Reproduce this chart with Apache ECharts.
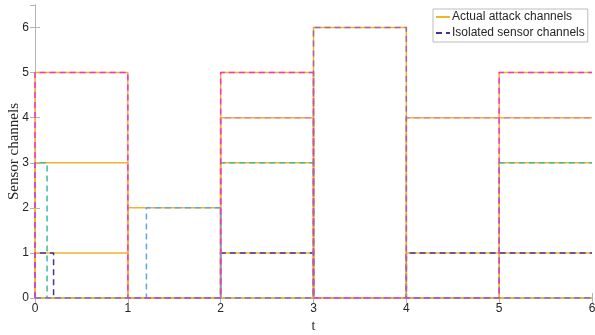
<!DOCTYPE html>
<html>
<head>
<meta charset="utf-8">
<script src="https://cdn.jsdelivr.net/npm/echarts@6/dist/echarts.min.js"></script>
<style>
  html, body { margin: 0; padding: 0; background: #fff; }
  #chart { width: 595px; height: 335px; }
</style>
</head>
<body>
<div id="chart"></div>
<script>
// Time axis: the attack pattern changes at each integer instant
const switchTimes = [0, 1, 2, 3, 4, 5, 6];
// Channels under attack during each interval [switchTimes[i], switchTimes[i+1])
const attackedChannels = [[1, 3, 5], [2], [1, 3, 4, 5], [6], [1, 4], [1, 3, 4, 5]];

// Intervals [start, end] during which each channel is flagged by the isolation scheme
const isolatedCh1 = [[0, 0.2], [2, 3], [4, 6]];
const isolatedCh2 = [[1.2, 2]];
const isolatedCh3 = [[0, 0.13], [2, 3], [5, 6]];
const isolatedCh4 = [[2, 3], [4, 6]];
const isolatedCh5 = [[0, 1], [2, 3], [5, 6]];
const isolatedCh6 = [[3, 4]];
const isolatedByChannel = [isolatedCh1, isolatedCh2, isolatedCh3, isolatedCh4, isolatedCh5, isolatedCh6];

const channels = [1, 2, 3, 4, 5, 6];
const yTicks = [0, 1, 2, 3, 4, 5, 6];
const xTicks = [0, 1, 2, 3, 4, 5, 6];

const actualColor = '#f0b32c';
const isolatedColors = ['#46329c', '#5ea7dc', '#3dbd9b', '#d88a99', '#f932c8', '#9a68ab'];
const tEnd = switchTimes[switchTimes.length - 1];

// Staircase of one channel's attack indicator (level = channel index when attacked)
function actualStairs(ch) {
  const pts = [];
  let prev = 0;
  for (let i = 0; i < attackedChannels.length; i++) {
    const v = attackedChannels[i].includes(ch) ? ch : 0;
    pts.push([switchTimes[i], prev], [switchTimes[i], v]);
    prev = v;
  }
  pts.push([tEnd, prev]);
  return pts;
}

// Staircase of one channel's isolation flag
function isolatedStairs(ch, intervals) {
  const pts = [[0, 0]];
  let y = 0;
  intervals.forEach(([a, b]) => {
    pts.push([a, y], [a, ch]);
    y = ch;
    if (b < tEnd) {
      pts.push([b, ch], [b, 0]);
      y = 0;
    }
  });
  pts.push([tEnd, y]);
  return pts;
}

const series = [];
channels.forEach(ch => {
  series.push({
    name: 'Actual attack channels',
    type: 'line',
    data: actualStairs(ch),
    symbol: 'none',
    animation: false,
    lineStyle: { color: actualColor, width: 1.5 },
    itemStyle: { color: actualColor },
    z: 2
  });
});
channels.forEach((ch, i) => {
  series.push({
    name: 'Isolated sensor channels',
    type: 'line',
    data: isolatedStairs(ch, isolatedByChannel[i]),
    symbol: 'none',
    animation: false,
    lineStyle: { color: isolatedColors[i], width: 1.5, type: [6, 4] },
    itemStyle: { color: isolatedColors[i] },
    z: 3 + i
  });
});

const axisGrey = '#b4b4b4';
const labelColor = '#262626';
const sans = 'Liberation Sans, Arial, sans-serif';
const serif = 'Liberation Serif, DejaVu Serif, serif';

const chart = echarts.init(document.getElementById('chart'), null, { renderer: 'canvas' });
chart.setOption({
  backgroundColor: '#ffffff',
  animation: false,
  grid: { left: 35, right: 3, top: 5, bottom: 37, containLabel: false, outerBoundsMode: 'none' },
  legend: {
    data: ['Actual attack channels', 'Isolated sensor channels'],
    orient: 'vertical',
    left: 433,
    top: 9,
    padding: [2, 3, 3, 2],
    itemGap: 4,
    itemWidth: 14,
    itemHeight: 12,
    backgroundColor: '#ffffff',
    borderColor: '#bdbdbd',
    borderWidth: 1,
    borderRadius: 0,
    itemStyle: { opacity: 0 },
    textStyle: { fontFamily: sans, fontSize: 12, color: labelColor, padding: [0, 0, 0, -3] }
  },
  xAxis: [{
    type: 'value',
    min: 0, max: 6, interval: 1,
    name: 't',
    nameLocation: 'middle',
    nameGap: 21,
    nameMoveOverlap: false,
    nameTextStyle: { fontFamily: serif, fontSize: 14, color: labelColor },
    axisLine: { show: true, lineStyle: { color: axisGrey, width: 1 } },
    axisTick: { show: true, inside: true, length: 5, lineStyle: { color: axisGrey } },
    axisLabel: { fontFamily: sans, fontSize: 12, color: labelColor, margin: 5,
      formatter: v => xTicks.includes(v) ? String(v) : '' },
    splitLine: { show: false }
  }, {
    type: 'value', position: 'top',
    min: 0, max: 6, interval: 1,
    axisLine: { show: true, lineStyle: { color: axisGrey, width: 1 } },
    axisTick: { show: true, inside: true, length: 5, lineStyle: { color: axisGrey } },
    axisLabel: { show: false },
    splitLine: { show: false }
  }],
  yAxis: [{
    type: 'value',
    min: 0, max: 6.5, interval: 1,
    name: 'Sensor channels',
    nameLocation: 'middle',
    nameGap: 13,
    nameMoveOverlap: false,
    nameTextStyle: { fontFamily: serif, fontSize: 15, color: labelColor },
    axisLine: { show: true, lineStyle: { color: axisGrey, width: 1 } },
    axisTick: { show: true, inside: true, length: 5, lineStyle: { color: axisGrey } },
    axisLabel: { fontFamily: sans, fontSize: 12, color: labelColor, margin: 6, showMaxLabel: false,
      formatter: v => yTicks.includes(v) ? String(v) : '' },
    splitLine: { show: false }
  }, {
    type: 'value', position: 'right',
    min: 0, max: 6.5, interval: 1,
    axisLine: { show: true, lineStyle: { color: axisGrey, width: 1 } },
    axisTick: { show: true, inside: true, length: 5, lineStyle: { color: axisGrey } },
    axisLabel: { show: false },
    splitLine: { show: false }
  }],
  series: series
});
</script>
</body>
</html>
